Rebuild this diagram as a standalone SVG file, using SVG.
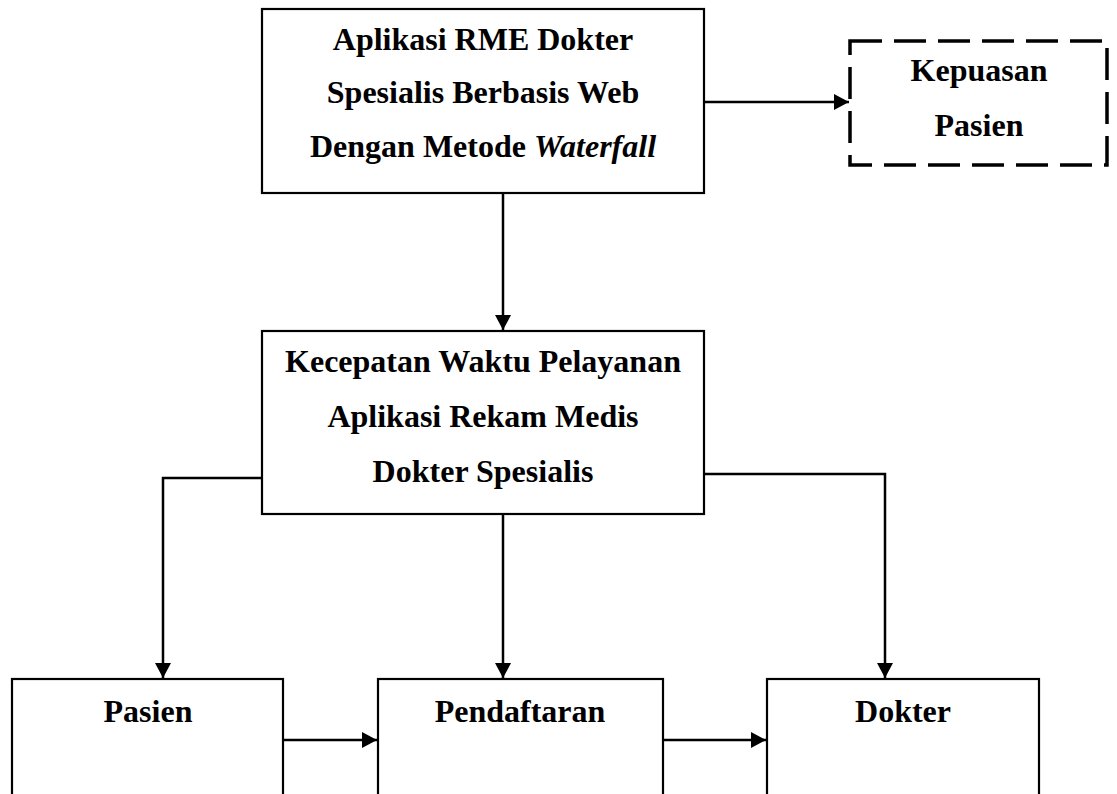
<svg xmlns="http://www.w3.org/2000/svg" width="1117" height="794" viewBox="0 0 1117 794">
<style>
.box{fill:#fff;stroke:#000;stroke-width:2.2}
.dash{fill:#fff;stroke:#000;stroke-width:3.5;stroke-dasharray:32 12}
.t{font-family:"Liberation Serif","Times New Roman",serif;font-weight:bold;font-size:32px;fill:#000;text-anchor:middle}
.conn{fill:none;stroke:#000;stroke-width:2.5}
</style>
<defs>
<marker id="ah" markerUnits="userSpaceOnUse" markerWidth="16" markerHeight="17" refX="15" refY="8" orient="auto">
<path d="M0,0 L15,8 L0,16 Z" fill="#000"/>
</marker>
</defs>
<rect width="1117" height="794" fill="#fff"/>
<g id="node-aplikasi">
<rect class="box" x="262" y="9" width="442" height="184"/>
<text class="t" x="483" y="50">Aplikasi RME Dokter</text>
<text class="t" x="483" y="103">Spesialis Berbasis Web</text>
<text class="t" x="483" y="157">Dengan Metode <tspan font-style="italic">Waterfall</tspan></text>
</g>
<g id="node-kepuasan">
<rect class="dash" x="850" y="41" width="257" height="124"/>
<text class="t" x="979" y="81">Kepuasan</text>
<text class="t" x="979" y="136">Pasien</text>
</g>
<g id="node-kecepatan">
<rect class="box" x="262" y="331" width="442" height="183"/>
<text class="t" x="483" y="372">Kecepatan Waktu Pelayanan</text>
<text class="t" x="483" y="427">Aplikasi Rekam Medis</text>
<text class="t" x="483" y="482">Dokter Spesialis</text>
</g>
<g id="node-pasien">
<rect class="box" x="12" y="679" width="271" height="130"/>
<text class="t" x="148" y="722">Pasien</text>
</g>
<g id="node-pendaftaran">
<rect class="box" x="378" y="679" width="285" height="130"/>
<text class="t" x="520" y="722">Pendaftaran</text>
</g>
<g id="node-dokter">
<rect class="box" x="767" y="679" width="272" height="130"/>
<text class="t" x="903" y="722">Dokter</text>
</g>
<g id="connectors">
<path class="conn" d="M704,102 H849" marker-end="url(#ah)"/>
<path class="conn" d="M503,193 V330" marker-end="url(#ah)"/>
<path class="conn" d="M262,478 H163 V678" marker-end="url(#ah)"/>
<path class="conn" d="M503,514 V678" marker-end="url(#ah)"/>
<path class="conn" d="M704,474 H885 V678" marker-end="url(#ah)"/>
<path class="conn" d="M283,740 H377" marker-end="url(#ah)"/>
<path class="conn" d="M663,740 H766" marker-end="url(#ah)"/>
</g>
</svg>
